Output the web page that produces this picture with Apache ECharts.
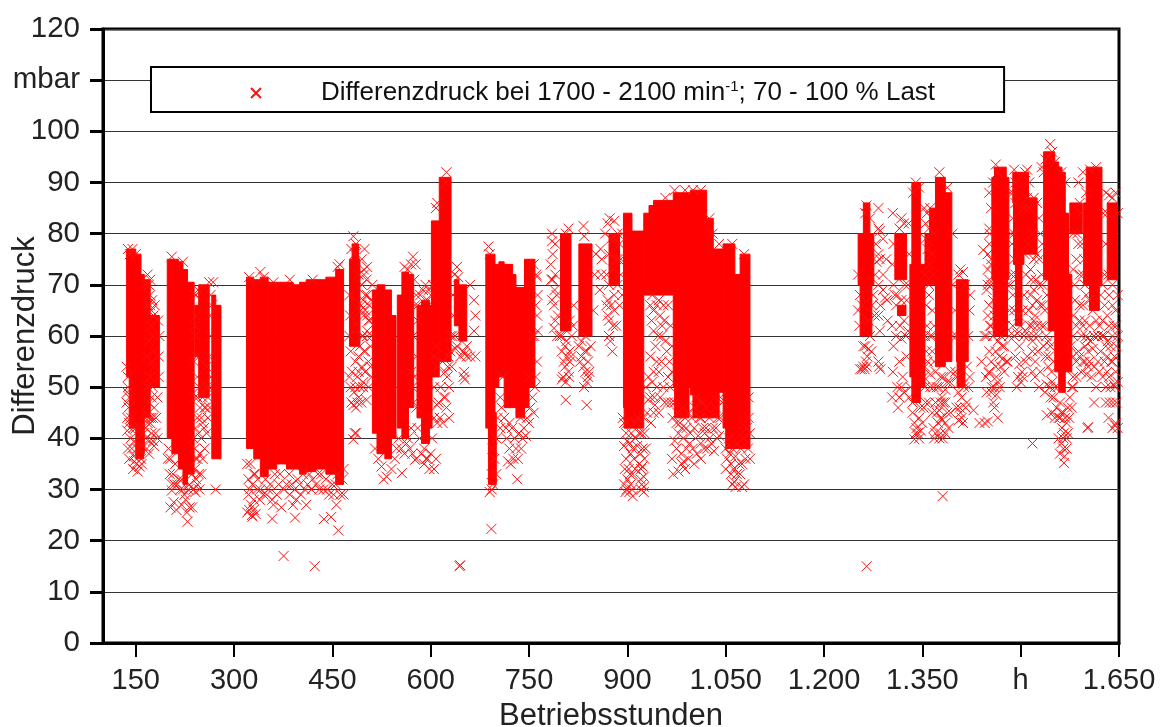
<!DOCTYPE html>
<html><head><meta charset="utf-8">
<style>html,body{margin:0;padding:0;background:#fff}#c{width:1160px;height:727px}</style>
<script src="https://cdn.jsdelivr.net/npm/echarts@6/dist/echarts.min.js"></script>
</head><body><div id="c"></div>
<script>
const xTickValues=[150,300,450,600,750,900,1050,1200,1350,1500,1650];
const xTickLabels=['150','300','450','600','750','900','1.050','1.200','1.350','h','1.650'];
const yTickLabels={0:'0',10:'10',20:'20',30:'30',40:'40',50:'50',60:'60',70:'70',80:'80',90:'90',100:'100',110:'mbar',120:'120'};
const seriesName='Differenzdruck bei 1700 - 2100 min-1; 70 - 100 % Last';
// dense, fully overprinted ranges: [hours from, hours to, mbar low, mbar high]
const denseRanges=[
[136,140,52,77],[140,150,42,77],[150,158,40,76],[158,163,37,72],[163,172,44,71],[172,186,50,64],[150,162,36,40],
[198,205,40,75],[205,215,37,75],[215,222,34,74.5],[222,229,31,73],[229,239,33,70.5],[240,246,56,66],[246,262,48,70],[266,272,36,68],[272,280,36,66],
[319,330,38,71.5],[330,340,36,71],[340,352,32.5,71.5],[352,365,34,70.5],[365,380,35,70.5],[380,390,34,70.5],[390,400,34,70],[400,410,33,70.5],[410,425,33.5,71],[425,440,34,71],[440,455,33,71.5],[455,467,31,73],
[476,492,58,75],[480,490,75,78],
[511,518,41,69],[518,530,37,70],[530,540,36,69],[540,547,40,64],
[549,556,42,68],[556,566,40,72.5],[566,574,46,72],[579,586,44,66],[586,598,39,67],[598,602,42,66],
[601,613,52,82.5],[613,631,55,91],[636,643,62,71],[643,655,59,70],
[684,698,42,76],[688,700,31,45],[698,704,50,74],[704,712,52,74.5],[712,725,46,74],[725,730,46,72],[730,743,44,69.5],[743,750,46,75],[750,759,50,75],
[798,814,61,80],[826,846,60,78],[872,888,70,80],
[894,907,46,84],[907,925,46,80.5],[925,933,68,84],[933,940,68,85.5],[940,970,68,86.5],[970,996,50,88],[996,1021,48.5,88.5],[1021,1031,48.5,83],[1031,1046,49,77],[1046,1064,42,78],[1064,1072,42,72],[1072,1087,42,76],
[895,925,42,46],[972,994,44,50],[1000,1040,44,49],[1050,1087,38,42],
[1252,1276,70,80],[1255,1273,60,70],[1260,1270,80,86],
[1308,1326,71,80],[1312,1325,64,66],[1334,1347,47,90],[1331,1334,52,74],[1347,1354,50,74],[1354,1361,70,80],[1361,1370,70,85],
[1370,1385,54,91],[1385,1395,55,88],[1402,1420,55,71],[1403,1415,50,56],
[1456,1482,71,91],[1460,1478,91,93],[1458,1480,60,72],[1489,1505,74,87],[1488,1512,86,92],[1492,1502,62,74],[1505,1525,76,87],
[1535,1542,71,93],[1542,1552,61,94],[1552,1558,53,94],[1558,1563,49,93],[1563,1568,49,92],[1568,1573,53,84],[1573,1578,53,72],[1535,1552,93,96],[1575,1594,80,86],
[1600,1624,70,93],[1596,1602,70,86],[1605,1620,65,70],[1632,1648,71,86]
];
const marks150=[[138,52],[137,49],[139,46],[140,48],[137,44],[140,43],[137,41.5],[141,42],[143,44],[146,42],[148,39.5],[150,42],[152,38],[147,36.5],[155,38],[151,35],[153,33.5],[158,36],[160,38.5],[156,42],[162,41],[165,45],[170,47],[168,43],[171,39.5],[174,41],[176,39.5],[165,40],[172,43],[178,46],[176,50],[172,52],[175,55],[178,57],[176,60],[173,62],[177,64],[174,65],[170,59],[167,56],[172,68],[170,70],[168,66],[165,70],[178,54],[174,48],[168,50],[138,77],[145,77],[141,76],[150,76]];
const extra150=[[136,54],[138,50],[136,47],[142,40],[144,38],[138,38],[140,36],[146,34],[148,35.5],[156,34.5],[159,35],[165,42],[167,38],[170,37],[173,44],[181,44],[183,48],[180,41],[178,38.5],[183,40],[176,44],[170,44],[185,52],[185,56],[186,60],[184,63],[168,72],[172,71],[175,67],[179,66],[172,66]];
const marks200=[[200,38],[203,36],[207,33],[210,35],[213,31],[218,30],[222,30],[205,29.8],[208,27.5],[212,26],[203,26.5],[220,27],[226,28],[228,25.5],[229,23.7],[232,26.5],[236,26.5],[230,30],[238,30],[242,32],[246,33],[244,36],[240,38],[248,37],[247,30],[250,40],[252,43],[246,41],[244,44],[248,46],[255,46],[252,48],[258,50],[255,38],[272,30],[205,75.5],[222,74.5],[241,68],[242,64],[241,60],[243,56],[244,52],[240,48],[262,70.5],[268,70.5],[266,66],[264,60],[262,50],[258,54]];
const extra200=[[199,36],[202,33],[205,31],[209,31],[216,32],[220,32],[224,29],[232,31],[236,33],[240,34],[242,36],[238,40],[241,42],[244,48],[247,50],[250,44],[254,42],[257,46],[252,36],[244,31],[241,29.5],[250,33],[260,48],[263,46],[239,55],[240,62],[242,68],[245,69],[263,64],[264,68],[262,56],[265,52],[260,44],[258,41]];
const marks300=[[333,25.2],[326,27],[330,26],[322,29],[330,28],[340,30],[345,29],[358,28],[358,24.3],[360,27],[372,26.5],[393,24.5],[390,27],[392,30],[385,29],[395,28],[410,27],[418,30],[437,24.2],[448,24.6],[459,22],[456,27],[445,29],[436,30],[425,31],[462,29],[450,31],[465,32],[330,33],[325,35],[335,30],[348,32],[352,30],[368,31],[376,30],[384,33],[400,31],[405,33],[415,33],[428,33],[440,32],[458,33],[375.5,17],[423,15],[323,71.5],[340,72.5],[345,71.5],[360,70.5],[385,71],[420,71],[458,73.5],[461,74]];
const extra300=[[320,35],[322,32],[324,30],[328,31],[332,33],[336,32],[339,28],[350,29],[355,31],[362,33],[365,29],[370,33],[380,31],[388,31],[397,32],[402,29],[408,30],[412,31],[420,32],[430,30],[433,33],[442,30],[452,29],[455,31],[467,29],[467,34],[320,25.5],[323,26],[327,25],[328,24.7]];
const marks480=[[482,79.5],[486,78],[479,77],[484,76],[490,72],[495,70],[498,72],[503,73.5],[503,68],[503,64],[503,61],[497,60],[478,57],[485,55],[490,56],[480,53],[488,52],[495,54],[478,50],[485,50],[492,50],[497,51],[500,53],[490,48],[482,46.5],[486,46],[488,47],[484,41],[482,39.8],[486,41],[498,73],[502,71],[500,68],[506,66],[498,64],[505,63],[510,60],[503,60],[498,57],[505,55],[508,58],[500,53],[510,52],[497,50]];
const extra480=[[476,60],[477,64],[476,68],[493,65],[495,60],[497,67],[500,65],[495,75],[499,77],[476,52],[479,47],[483,49],[490,53],[494,47],[492,58],[500,57],[505,50],[508,54],[502,47.5],[507,63],[509,67],[511,70],[494,66]];
const marks520=[[515,38],[520,36],[525,34.5],[528,32],[533,32.5],[540,34],[545,36],[556,33.2],[573,75.5],[570,74],[560,73.5],[565,73],[575,71],[578,68],[580,66],[573,60],[578,56],[570,53],[574,47],[563,39],[568,38],[572,37],[576,35.8],[578,36],[593,36],[590,35],[605,34],[608,36],[624,92],[623,90],[610,86],[608,85],[605,56],[610,54],[618,55],[622,53],[625,52],[615,50],[620,48],[628,50],[612,47],[610,46.5],[624,46],[605,50],[627,56],[630,60],[608,58]];
const extra520=[[548,38],[551,40],[555,38],[560,37],[565,40],[570,42],[572,50],[575,52],[578,46],[580,42],[583,40],[586,37],[590,38],[595,36],[600,37],[598,34],[602,40],[605,44],[610,43],[614,44],[618,43],[622,48],[626,54],[630,57],[632,54],[628,44],[576,66],[580,63],[584,68],[588,69],[592,70],[597,69],[600,68],[603,70],[595,67],[577,74]];
const marks640=[[640,73.5],[642,71.5],[636,72],[633,60],[638,57.5],[650,57],[655,58],[660,56],[668,56],[660,70],[666,67],[668,64],[666,61],[650,52],[651,53],[652,51.5],[644,15],[645,15.2],[692.5,22.3],[688,77.5],[690,76],[693,30],[690,29.5],[695,31],[715,42],[720,38],[718,35.5],[722,35],[726,36],[732,32],[733,36],[738,38],[735,41],[742,42],[745,40.5],[750,43],[752,46],[750,52],[762,55],[762,71.6],[763,68],[762,64],[763,61],[755,60]];
const extra640=[[635,64],[634,68],[637,60],[640,58],[645,56],[652,56.5],[655,56],[700,40],[702,44],[706,48],[706,42],[708,46],[710,52],[712,44],[716,40],[720,43],[724,42],[728,40],[730,38],[737,44],[740,40],[747,44],[755,48],[757,45],[759,50],[760,52],[758,60],[760,66],[761,72],[757,74],[693,33],[697,36],[700,33],[694,38]];
const marks800=[[785,78.5],[786,76],[783,74],[790,72],[786,71],[789,69],[785,67],[790,63],[788,61.5],[793,60],[810,81],[806,80],[800,60],[805,58],[808,56],[812,55],[805,54],[810,53],[802,52],[806,51],[806,47.5],[800,51.5],[812,57],[815,60],[833,81.5],[834,79.5],[830,59],[835,57],[840,55],[836,53],[838,51],[834,50],[840,52],[838,46.5],[828,55],[859,77],[861,75],[860,72],[870,82],[880,82.5],[885,80],[875,79],[888,78],[872,76],[883,75],[878,73],[890,72],[872,70],[880,68],[875,66],[870,64],[878,62],[872,60],[880,65],[868,72],[870,67],[874,59]];
const extra800=[[797,60],[800,57],[803,55],[807,59],[811,52],[814,56],[817,62],[812,63],[818,66],[785,80],[790,78],[784,71],[788,66],[792,68],[794,64],[826,58],[830,56],[833,54],[838,57],[842,53],[844,58],[836,60],[848,65],[850,72],[852,76],[858,69],[866,80],[873,83],[882,79],[886,75],[892,80],[890,75],[892,68],[885,70],[888,66],[883,62],[868,66],[872,63],[877,57]];
const marks900=[[893,44],[900,43],[906,41],[912,43],[916,44],[921,41],[925,44],[895,38.5],[900,39.5],[905,37],[910,36],[915,38.5],[920,37],[923,34.5],[925,32.5],[898,36],[902,34],[920,32],[925,30.5],[897,29.5],[905,31],[907,30],[908,28.7],[925,29.5],[922,31],[895,31],[930,45],[940,45],[932,47.5],[938,68],[940,65],[945,66],[950,64],[955,66],[940,61],[943,58],[947,60],[953,62],[958,59],[935,56],[945,55],[952,55],[960,57],[940,53],[948,53],[962,52],[955,50],[938,51],[945,50],[965,50],[962,47],[958,87],[972,88.5],[988,88.5],[1000,88.5],[1012,88.5],[1025,83],[1030,80],[1040,78],[1060,78],[1078,76]];
const extra900=[[895,43],[898,41],[903,39],[908,38],[912,40],[918,35],[921,34],[918,41],[923,38],[926,41],[928,38],[896,34],[900,32],[904,33],[908,33],[912,34],[926,36],[899,30],[903,29.5],[921,30],[935,66],[937,63],[948,67],[952,60],[956,63],[962,66],[966,62],[968,58],[964,55],[968,53],[941,48],[950,48],[957,47],[967,47],[935,48],[942,46.5],[948,45],[936,43],[928,50],[932,52]];
const marks1000=[[972,47],[976,45],[980,43],[985,46],[978,41],[972,39.5],[975,38],[985,40],[990,38],[982,37],[986,35.5],[988,34],[978,33.5],[983,35],[993,36],[990,42],[998,44],[1003,46],[1010,44],[1015,42],[1008,40.5],[1012,39],[1006,37],[1018,41],[1025,44],[1030,42],[1035,46],[1038,44],[1028,39],[1022,38],[1032,37.5],[1040,40.5],[1045,47],[1042,48],[1015,47],[1020,46],[1005,48],[1033,48],[1055,40],[1060,38],[1065,36.5],[1068,39],[1073,38],[1077,40],[1082,42],[1085,44],[1062,34],[1067,33],[1063,31.5],[1060,31],[1072,33],[1075,30.5],[1078,31],[1056,37],[1050,38],[1085,48]];
const extra1000=[[975,43],[983,42],[988,44],[993,45],[996,41],[1000,38],[1002,42],[1012,44],[1020,42],[1025,40],[1035,42],[1042,44],[1037,40],[1012,36],[1017,38],[1002,35],[995,39],[969,44],[968,36],[970,33],[1052,36],[1058,35],[1070,35],[1080,36],[1084,38],[1087,41],[1075,35],[1050,34],[1065,30.5],[1058,33],[1087,36]];
const marks1260=[[1265,85.5],[1263,84],[1270,83],[1263,58],[1266,56],[1264,55],[1268,57.5],[1255,53.5],[1262,53.5],[1265,54],[1260,54],[1258,53.5],[1283,85],[1283,81],[1285,80.5],[1283,76],[1285,75],[1280,74.5],[1283,70],[1290,69],[1293,67.5],[1286,66],[1283,64],[1297,63],[1285,61],[1283,55],[1286,53.5],[1284,54],[1290,79],[1295,75],[1268,63],[1273,66],[1265,15],[1305,84],[1318,83],[1322,82],[1315,81],[1312,68],[1318,67],[1323,70],[1310,66],[1316,62],[1325,60],[1310,60],[1318,59.5],[1315,55],[1318,50],[1315,48],[1313,46],[1322,63],[1328,61]];
const extra1260=[[1255,68],[1258,66],[1275,68],[1277,64],[1278,72],[1279,78],[1252,65],[1254,62],[1252,72],[1260,58],[1270,60],[1272,57],[1290,72],[1296,67],[1306,78],[1304,74],[1306,70],[1308,68],[1326,67],[1328,70],[1330,76],[1329,82],[1304,62],[1306,58],[1326,56],[1320,52],[1322,49],[1312,50],[1305,53],[1304,48]];
const marks1340=[[1340,90],[1336,88],[1345,89],[1335,45],[1338,43],[1341,42],[1345,44],[1343,41],[1340,41],[1338,39.8],[1345,40],[1348,41.5],[1347,46],[1335,47],[1352,46],[1350,43],[1362,85],[1357,84],[1365,83],[1360,81],[1355,79],[1367,80],[1358,77],[1365,76],[1361,74],[1354,72],[1367,72],[1360,70],[1360,68],[1365,65],[1357,62],[1362,60],[1365,57],[1358,55],[1362,52.5],[1367,50],[1360,47],[1365,45],[1370,47],[1362,50],[1378,52],[1375,50],[1380,48],[1385,49.5],[1382,47],[1376,45.5],[1378,44],[1372,45],[1380,43.5],[1385,43],[1378,41],[1385,41],[1370,41],[1381,40],[1381,28.7],[1392,51],[1385,47],[1393,45],[1376,92],[1388,89]];
const extra1340=[[1332,50],[1330,48],[1354,50],[1355,47],[1352,52],[1356,66],[1354,60],[1356,57],[1354,54],[1368,62],[1365,60],[1370,53],[1368,55],[1393,53],[1396,60],[1396,70],[1396,80],[1388,51],[1378,47],[1372,50],[1382,52],[1388,45],[1374,43],[1376,40],[1390,42],[1367,42],[1368,40],[1355,82],[1353,85]];
const marks1410=[[1408,73],[1405,72],[1412,72.5],[1415,70],[1405,49],[1410,48],[1414,50],[1420,50],[1407,46],[1402,46],[1410,44],[1408,45],[1405,43.5],[1412,43],[1428,45.5],[1412,50.5],[1437,43],[1445,43],[1450,43.3],[1465,44],[1463,48.5],[1440,55],[1452,57],[1445,60],[1452,53],[1451,52.8],[1448,49],[1455,49],[1460,50],[1465,51],[1455,74],[1450,76],[1450,70],[1443,76.8],[1452,81],[1452,78],[1450,73],[1452,71],[1448,69],[1462,93.5],[1465,92],[1458,90],[1455,85],[1453,80],[1455,75],[1455,70],[1458,67],[1460,64],[1455,62],[1458,60],[1462,57],[1465,59],[1470,60],[1475,58],[1468,56],[1472,55.5],[1480,55],[1462,54],[1455,55],[1476,62],[1480,70]];
const extra1410=[[1400,53],[1402,60],[1400,65],[1420,60],[1422,65],[1423,68],[1418,54],[1422,52],[1416,46],[1403,52],[1418,47],[1450,64],[1448,60],[1447,52],[1453,62],[1456,50],[1458,47],[1460,46],[1463,52],[1468,50],[1470,54],[1472,58],[1475,53],[1478,55],[1482,60],[1483,65],[1484,70],[1485,80],[1484,88],[1452,88],[1452,66]];
const marks1500=[[1490,92.5],[1492,90],[1488,88],[1492,86],[1488,83],[1510,92.5],[1513,90],[1507,92],[1510,87],[1505,85],[1490,80],[1487,78],[1490,75],[1492,72],[1497,64],[1500,62],[1495,60.5],[1503,65],[1505,60],[1490,60],[1498,58],[1507,55],[1498,54.5],[1502,53],[1512,60],[1520,87],[1512,85],[1525,86],[1528,83],[1518,80],[1530,80],[1525,76],[1520,75],[1515,73],[1528,75],[1523,71],[1520,69],[1518,66],[1515,68],[1525,67],[1522,64],[1518,62],[1520,60],[1518,59],[1527,60],[1518,57],[1522,55],[1518,39]];
const extra1500=[[1486,72],[1488,68],[1490,65],[1488,62],[1492,56],[1496,52],[1500,51],[1494,50],[1505,68],[1508,72],[1506,76],[1503,52],[1507,61],[1510,56],[1514,62],[1512,65],[1512,78],[1516,71],[1520,63],[1525,62],[1530,66],[1532,72],[1533,78],[1528,70],[1526,57],[1530,53],[1528,50],[1522,52],[1518,53]];
const marks1550=[[1545,97.5],[1548,96],[1543,95],[1538,94.5],[1535,92],[1532,93],[1552,94],[1562,92],[1568,90],[1540,68],[1537,65],[1545,58],[1550,55],[1543,56],[1547,53],[1552,50],[1560,47],[1545,50],[1540,50.5],[1537,49],[1548,51],[1565,45],[1568,44],[1560,44],[1570,43],[1563,42],[1566,41],[1562,39],[1565,40],[1570,38],[1567,36.5],[1565,38],[1566,35.2],[1540,44.5],[1558,40],[1572,46],[1578,50],[1580,52],[1585,55],[1595,92],[1588,90],[1600,88],[1590,86],[1592,84],[1580,80],[1585,75],[1590,72],[1582,70],[1595,72],[1590,66],[1585,62],[1593,60],[1580,60],[1588,57],[1595,55],[1580,50],[1590,56]];
const extra1550=[[1533,70],[1534,66],[1532,62],[1536,62],[1539,60],[1542,59],[1535,58],[1538,56],[1542,54],[1546,48],[1550,48],[1555,46],[1556,50],[1548,45],[1552,44],[1558,44],[1562,45],[1575,48],[1578,46],[1574,44],[1572,41],[1570,40],[1560,37],[1576,58],[1580,64],[1583,67],[1580,73],[1588,78],[1594,78],[1586,80],[1590,63],[1598,58],[1580,56],[1585,52],[1592,53]];
const marks1610=[[1606,92.5],[1615,93],[1605,67],[1600,68],[1595,66],[1598,63],[1605,62],[1610,65],[1615,63],[1612,60],[1620,62],[1618,60],[1625,63],[1607,59],[1600,60],[1602,59.5],[1603,57],[1610,57.5],[1598,55],[1605,55],[1600,52.5],[1603,54],[1612,47],[1602,42],[1603,42.2],[1630,47],[1630,58],[1628,55],[1632,53],[1635,87.5],[1640,87],[1645,88],[1632,84],[1648,84],[1635,68],[1640,66],[1645,65],[1632,64],[1642,62],[1648,60],[1635,62],[1640,60],[1646,58],[1637,58],[1643,56],[1632,56],[1645,53],[1640,55],[1635,52],[1648,51],[1642,50.5],[1644,50],[1645,43],[1640,42],[1648,42],[1644,42.5],[1636,47]];
const extra1610=[[1598,70],[1597,75],[1595,62],[1622,68],[1625,70],[1628,72],[1630,78],[1626,84],[1630,88],[1628,66],[1624,60],[1622,57],[1618,55],[1612,54],[1608,52],[1615,50],[1620,53],[1625,52],[1630,50],[1627,60],[1634,72],[1640,70],[1648,68],[1633,59],[1638,55],[1646,62],[1637,50],[1641,47],[1646,47],[1634,44]];
const allMarks=[].concat(marks150,extra150,marks200,extra200,marks300,extra300,marks480,extra480,marks520,extra520,marks640,extra640,marks800,extra800,marks900,extra900,marks1000,extra1000,marks1260,extra1260,marks1340,extra1340,marks1410,extra1410,marks1500,extra1500,marks1550,extra1550,marks1610,extra1610);

const chart=echarts.init(document.getElementById('c'),null,{renderer:'canvas'});
const font='"Liberation Sans",Arial,sans-serif';
const black='#000';
chart.setOption({
  animation:false,
  backgroundColor:'#fff',
  grid:{left:103,top:29,width:1016,height:614,outerBoundsMode:'none',containLabel:false,show:true,borderColor:black,borderWidth:3,backgroundColor:'#fff'},
  xAxis:{type:'value',min:100,max:1650,name:'Betriebsstunden',nameLocation:'middle',nameGap:58,nameMoveOverlap:false,
    nameTextStyle:{fontFamily:font,fontSize:31,color:'#222'},
    splitLine:{show:false},
    axisLine:{show:true,onZero:false,lineStyle:{color:black,width:3}},
    axisTick:{show:true,length:14,customValues:xTickValues,lineStyle:{color:black,width:2}},
    axisLabel:{fontFamily:font,fontSize:29,color:'#222',margin:23,hideOverlap:false,customValues:xTickValues,
      formatter:v=>xTickLabels[xTickValues.indexOf(v)]}},
  yAxis:{type:'value',min:0,max:120,interval:10,name:'Differenzdruck',nameLocation:'middle',nameGap:62,nameMoveOverlap:false,
    nameTextStyle:{fontFamily:font,fontSize:31,color:'#222'},
    splitLine:{show:true,lineStyle:{color:'#333',width:1}},
    axisLine:{show:true,lineStyle:{color:black,width:3}},
    axisTick:{show:true,length:13,lineStyle:{color:black,width:3}},
    axisLabel:{fontFamily:font,fontSize:29.5,color:'#222',margin:23,formatter:v=>yTickLabels[v]}},
  legend:{left:151,top:67,data:[seriesName],itemWidth:120,itemHeight:10,padding:[12,69,6,99],
    borderColor:black,borderWidth:2,backgroundColor:'#fff',borderRadius:0,
    formatter:()=>'{a|Differenzdruck bei 1700 - 2100 min}{s|-1}{a|; 70 - 100 % Last}',
    textStyle:{rich:{a:{fontFamily:font,fontSize:26,color:'#111',lineHeight:28},s:{fontFamily:font,fontSize:15,color:'#111',verticalAlign:'top',lineHeight:28}}}},
  series:[
    {name:'Dichte Bereiche',type:'custom',z:2,clip:true,data:denseRanges,encode:{x:[0,1],y:[2,3]},
     renderItem:(p,api)=>{const a=api.coord([api.value(0),api.value(3)]),b=api.coord([api.value(1),api.value(2)]);
       return {type:'rect',shape:{x:a[0],y:a[1],width:b[0]-a[0],height:b[1]-a[1]},style:{fill:'#ff0000',stroke:'#ff0000',lineWidth:1}};}},
    {name:seriesName,type:'scatter',z:3,data:allMarks,symbol:'path://M0 0L10 10M10 0L0 10',symbolSize:10,
     itemStyle:{color:'rgba(0,0,0,0)',borderColor:'#ff1010',borderWidth:1,opacity:1}}
  ]
});
</script></body></html>
